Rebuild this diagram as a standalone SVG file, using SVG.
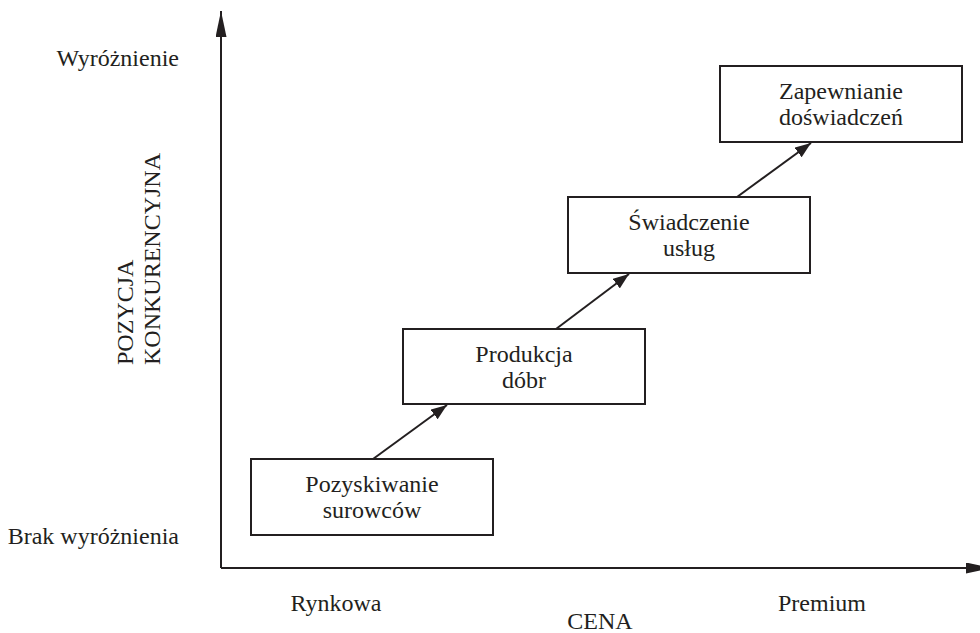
<svg xmlns="http://www.w3.org/2000/svg" width="980" height="633" viewBox="0 0 980 633">
<defs>
<style>
text{font-family:'Liberation Serif','DejaVu Serif',serif;font-size:24px;fill:#231f20}
.box{fill:#fff;stroke:#231f20;stroke-width:2}
.ax{stroke:#231f20;stroke-width:2;fill:none}
.c{text-anchor:middle}
</style>
<marker id="ah" viewBox="0 0 16 12" refX="16" refY="6" markerWidth="16" markerHeight="12" markerUnits="userSpaceOnUse" orient="auto">
<path d="M0,0 L16,6 L0,12 Z" fill="#231f20"/>
</marker>
<marker id="axh" viewBox="0 0 26 11" refX="26" refY="5.5" markerWidth="26" markerHeight="11" markerUnits="userSpaceOnUse" orient="auto">
<path d="M0,0 L26,5.5 L0,11 Z" fill="#231f20"/>
</marker>
</defs>
<rect width="980" height="633" fill="#fff"/>
<g id="axes">
<line class="ax" x1="221" y1="568" x2="221" y2="11" marker-end="url(#axh)"/>
<line class="ax" x1="221" y1="568" x2="992" y2="568" marker-end="url(#axh)"/>
</g>
<g id="labels">
<text x="179" y="66" text-anchor="end">Wyróżnienie</text>
<text x="179" y="544" text-anchor="end">Brak wyróżnienia</text>
<text x="336" y="611" class="c">Rynkowa</text>
<text x="822" y="611" class="c">Premium</text>
<text x="600" y="629" class="c">CENA</text>
<text transform="translate(133,365) rotate(-90)">POZYCJA</text>
<text transform="translate(160,365) rotate(-90)">KONKURENCYJNA</text>
</g>
<g id="connectors">
<line class="ax" x1="373" y1="459" x2="447" y2="405" marker-end="url(#ah)"/>
<line class="ax" x1="556" y1="329" x2="629" y2="274" marker-end="url(#ah)"/>
<line class="ax" x1="737" y1="197" x2="811" y2="143" marker-end="url(#ah)"/>
</g>
<g id="n1">
<rect class="box" x="251" y="459" width="242" height="76"/>
<text x="372" y="492" class="c">Pozyskiwanie</text>
<text x="372" y="518" class="c">surowców</text>
</g>
<g id="n2">
<rect class="box" x="403" y="329" width="242" height="75"/>
<text x="524" y="362" class="c">Produkcja</text>
<text x="524" y="388" class="c">dóbr</text>
</g>
<g id="n3">
<rect class="box" x="568" y="197" width="242" height="76"/>
<text x="689" y="230" class="c">Świadczenie</text>
<text x="689" y="256" class="c">usług</text>
</g>
<g id="n4">
<rect class="box" x="720" y="66" width="242" height="76"/>
<text x="841" y="99" class="c">Zapewnianie</text>
<text x="841" y="125" class="c">doświadczeń</text>
</g>
</svg>
